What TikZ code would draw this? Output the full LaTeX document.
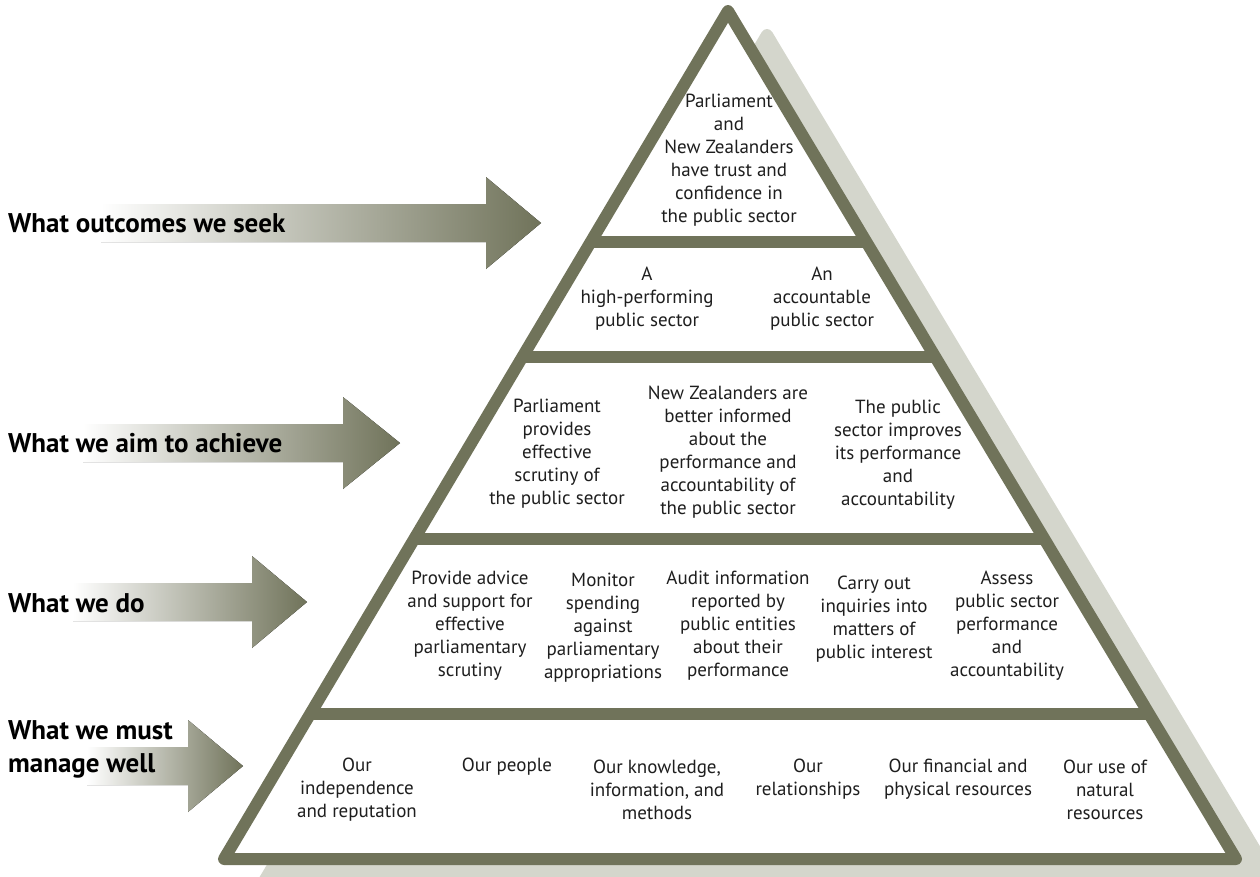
\documentclass[tikz,border=0pt]{standalone}
\usepackage{fontspec}
\setmainfont{PT Sans}
\usepackage{xcolor}
\usepackage{tikz}
\usetikzlibrary{calc}
\definecolor{pyrolive}{RGB}{112, 115, 90}
\definecolor{pyrshadow}{RGB}{212, 214, 204}
\definecolor{bodytext}{RGB}{30, 30, 30}

\tikzset{
    bandline/.style={draw=pyrolive, line width=12pt, line join=round, line cap=round},
    bodytxt/.style={text=bodytext, align=center, inner sep=0pt, font=\fontsize{19}{23}\selectfont},
    headtxt/.style={anchor=west, align=left, inner sep=0pt, font=\fontsize{27}{33}\selectfont\bfseries},
}

\begin{document}
\begin{tikzpicture}[x=1pt, y=-1pt]
    \useasboundingbox (0,0) rectangle (1260,876);

    % arrows behind the headings
    \foreach \xs/\xh/\xt/\yc in {101/486/541/223, 83/343/400/443, 73/252/307/602, 87/188/243/766}
        \fill[left color=white, right color=pyrolive] (\xs,{\yc-19}) -- (\xh,{\yc-19}) -- (\xh,{\yc-46})
            -- (\xt,\yc) -- (\xh,{\yc+46}) -- (\xh,{\yc+19}) -- (\xs,{\yc+19}) -- cycle;

    % pyramid and its shadow
    \coordinate (apex) at (728,11);
    \coordinate (baseL) at (224,859);
    \coordinate (baseR) at (1236,859);
    \filldraw[pyrshadow, line width=12pt, line join=round] ($(apex)+(39,24)$) -- ($(baseL)+(39,24)$) -- ($(baseR)+(39,24)$) -- cycle;
    \filldraw[bandline, fill=white] (apex) -- (baseL) -- (baseR) -- cycle;
    \foreach \t in {0.2724, 0.408, 0.6226, 0.829}
        \draw[bandline, line cap=butt] ($(apex)!\t!(baseL)$) -- ($(apex)!\t!(baseR)$);

    % headings
    \node[headtxt] (seek) at (8,223) {What outcomes we seek};
    \node[headtxt] (aim) at (8,443) {What we aim to achieve};
    \node[headtxt] (do) at (8,603) {What we do};
    \node[headtxt] (manage) at (8,749.5) {What we must\\manage well};

    % top
    \node[bodytxt] (trust) at (729,160) {Parliament\\and\\New Zealanders\\have trust and\\confidence in\\the public sector};

    % second band
    \node[bodytxt] (highperf) at (647,299) {A\\high-performing\\public sector};
    \node[bodytxt] (account) at (822,299) {An\\accountable\\public sector};

    % third band
    \node[bodytxt] (scrutiny) at (557,454) {Parliament\\provides\\effective\\scrutiny of\\the public sector};
    \node[bodytxt] (informed) at (728,452) {New Zealanders are\\better informed\\about the\\performance and\\accountability of\\the public sector};
    \node[bodytxt] (improves) at (898,455) {The public\\sector improves\\its performance\\and\\accountability};

    % fourth band
    \node[bodytxt] (advice) at (470,626) {Provide advice\\and support for\\effective\\parliamentary\\scrutiny};
    \node[bodytxt] (monitor) at (603,628) {Monitor\\spending\\against\\parliamentary\\appropriations};
    \node[bodytxt] (audit) at (738,626) {Audit information\\reported by\\public entities\\about their\\performance};
    \node[bodytxt] (inquiries) at (874,619) {Carry out\\inquiries into\\matters of\\public interest};
    \node[bodytxt] (assess) at (1007,626) {Assess\\public sector\\performance\\and\\accountability};

    % base band
    \node[bodytxt] (independence) at (357,790) {Our\\independence\\and reputation};
    \node[bodytxt] (people) at (507,767) {Our people};
    \node[bodytxt] (knowledge) at (657,790) {Our knowledge,\\information, and\\methods};
    \node[bodytxt] (relations) at (808,779) {Our\\relationships};
    \node[bodytxt] (financial) at (958,779) {Our financial and\\physical resources};
    \node[bodytxt] (natural) at (1105,790) {Our use of\\natural\\resources};
\end{tikzpicture}
\end{document}
